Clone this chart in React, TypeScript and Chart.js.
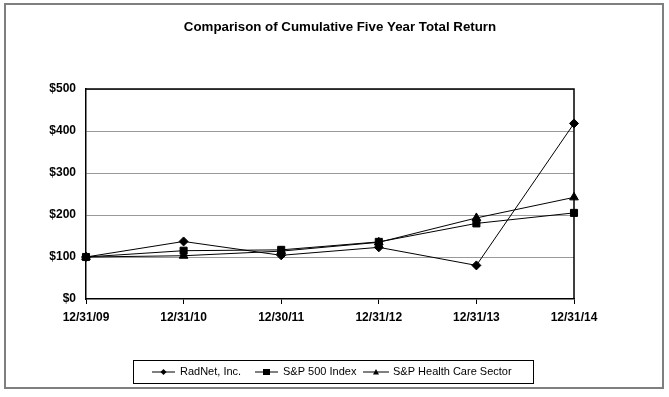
import React, { useEffect, useRef } from "react";
import { Chart, registerables } from "chart.js";

Chart.register(...registerables);

const titleText = "Comparison of Cumulative Five Year Total Return";
const categories = ["12/31/09", "12/31/10", "12/30/11", "12/31/12", "12/31/13", "12/31/14"];
const radnet = [100, 137, 104, 123, 80, 418];
const sp500 = [100, 115, 117, 136, 180, 205];
const healthCare = [100, 103, 114, 135, 193, 242];
const seriesNames = ["RadNet, Inc.", "S&P 500 Index", "S&P Health Care Sector"];
const yTicks = [0, 100, 200, 300, 400, 500];

const FONT = "Arial, 'Liberation Sans', sans-serif";

const framePlugin = {
  id: "frame",
  beforeDraw(chart: any) {
    const ctx = chart.ctx;
    ctx.save();
    ctx.fillStyle = "#ffffff";
    ctx.fillRect(0, 0, chart.width, chart.height);
    ctx.strokeStyle = "#7f7f7f";
    ctx.lineWidth = 2;
    ctx.strokeRect(5, 4, 658, 384);
    ctx.fillStyle = "#000";
    ctx.font = `bold 13.3px ${FONT}`;
    ctx.textAlign = "center";
    ctx.textBaseline = "middle";
    ctx.fillText(titleText, 340, 27);
    ctx.restore();
  },
  afterDraw(chart: any) {
    const ctx = chart.ctx;
    const a = chart.chartArea;
    ctx.save();
    ctx.strokeStyle = "#000";
    ctx.lineWidth = 1.5;
    ctx.beginPath();
    ctx.moveTo(a.left, a.top);
    ctx.lineTo(a.right, a.top);
    ctx.lineTo(a.right, a.bottom);
    ctx.stroke();
    // legend
    ctx.lineWidth = 1;
    ctx.strokeRect(133.5, 360.5, 400, 23);
    const items = [
      { x: 152, tx: 180 },
      { x: 255, tx: 283 },
      { x: 363, tx: 393 },
    ];
    const cy = 372;
    chart.data.datasets.forEach((ds: any, i: number) => {
      const it = items[i];
      const len = i === 2 ? 26 : 23;
      ctx.strokeStyle = "#000";
      ctx.lineWidth = 1;
      ctx.beginPath();
      ctx.moveTo(it.x, cy);
      ctx.lineTo(it.x + len, cy);
      ctx.stroke();
      ctx.fillStyle = "#000";
      const mx = it.x + len / 2;
      const r = ds.pointStyle === "rect" ? 3.5 : 3;
      ctx.beginPath();
      if (ds.pointStyle === "rectRot") {
        ctx.moveTo(mx, cy - r);
        ctx.lineTo(mx + r, cy);
        ctx.lineTo(mx, cy + r);
        ctx.lineTo(mx - r, cy);
      } else if (ds.pointStyle === "rect") {
        ctx.rect(mx - r, cy - r + 0.5, 2 * r, 2 * r - 1);
      } else {
        ctx.moveTo(mx, cy - r);
        ctx.lineTo(mx + r, cy + r * 0.8);
        ctx.lineTo(mx - r, cy + r * 0.8);
      }
      ctx.closePath();
      ctx.fill();
      ctx.font = `11px ${FONT}`;
      ctx.textAlign = "left";
      ctx.textBaseline = "middle";
      ctx.fillText(ds.label, it.tx, cy);
    });
    ctx.restore();
  },
};

export default function App() {
  const ref = useRef<HTMLCanvasElement>(null);
  useEffect(() => {
    document.body.style.margin = "0";
    const mk = (label: string, data: number[], style: string, radius: number) => ({
      label,
      data,
      borderColor: "#000",
      backgroundColor: "#000",
      borderWidth: 1,
      pointStyle: style,
      pointRadius: radius,
      pointHoverRadius: radius,
      pointBorderWidth: 1,
      tension: 0,
    });
    const chart = new Chart(ref.current!, {
      type: "line",
      data: {
        labels: categories,
        datasets: [
          mk(seriesNames[0], radnet, "rectRot", 4.5),
          mk(seriesNames[1], sp500, "rect", 5),
          mk(seriesNames[2], healthCare, "triangle", 5),
        ],
      },
      plugins: [framePlugin],
      options: {
        responsive: false,
        animation: false,
        events: [],
        layout: { padding: { left: 0, right: 95, top: 89, bottom: 0 } },
        plugins: { legend: { display: false }, title: { display: false }, tooltip: { enabled: false } },
        scales: {
          x: {
            offset: false,
            afterFit: (s: any) => { s.height = 98; },
            grid: { drawOnChartArea: false, drawTicks: true, tickLength: 5, color: "#000", tickColor: "#000" },
            border: { color: "#000", width: 1.5 },
            ticks: {
              autoSkip: false,
              maxRotation: 0,
              minRotation: 0,
              padding: 6,
              color: "#000",
              font: { family: FONT, size: 12, weight: "bold" },
            },
          },
          y: {
            min: 0,
            max: 500,
            afterFit: (s: any) => { s.width = 86; },
            afterBuildTicks: (s: any) => { s.ticks = yTicks.map((v) => ({ value: v })); },
            grid: { drawTicks: false, color: (c: any) => (c.tick && c.tick.value === 0 ? "rgba(0,0,0,0)" : "#999"), lineWidth: 1 },
            border: { color: "#000", width: 1.5 },
            ticks: {
              padding: 10,
              color: "#000",
              font: { family: FONT, size: 12, weight: "bold" },
              callback: (v: any) => "$" + v,
            },
          },
        },
      } as any,
    });
    return () => chart.destroy();
  }, []);
  return <canvas ref={ref} width={669} height={397} style={{ display: "block" }} />;
}
